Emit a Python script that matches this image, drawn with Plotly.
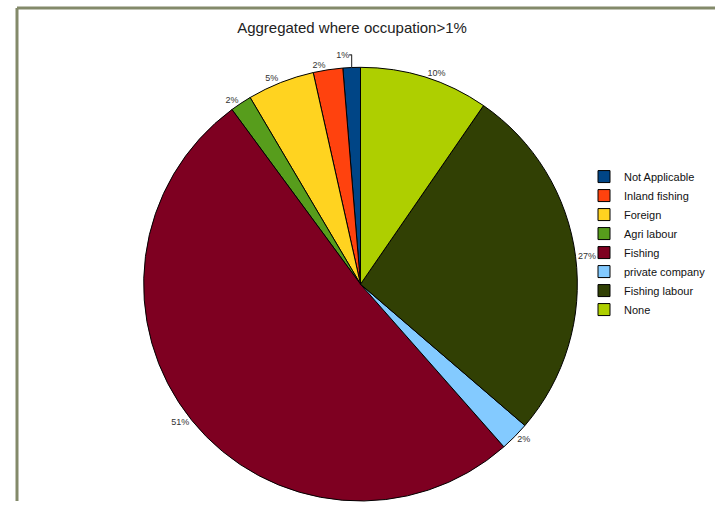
import plotly.graph_objects as go

labels = ["Not Applicable", "Inland fishing", "Foreign", "Agri labour", "Fishing",
          "private company", "Fishing labour", "None"]
values = [1.3, 2.2, 5.0, 1.6, 51.4, 2.2, 26.7, 9.6]
colors = ["#004586", "#ff420e", "#ffd320", "#579d1c", "#7e0021",
          "#83caff", "#314004", "#aecf00"]

W, H = 715, 506

# plotly places the first slice clockwise of the start angle when direction is
# counterclockwise; rotate back so the first slice starts at 12 o'clock
start_rotation = -values[0] / sum(values) * 360

fig = go.Figure(go.Pie(
    labels=labels,
    values=values,
    sort=False,
    direction="counterclockwise",
    rotation=start_rotation,
    marker=dict(colors=colors, line=dict(color="#000000", width=1)),
    textinfo="percent",
    texttemplate="%{percent:.0%}",
    textposition="outside",
    outsidetextfont=dict(family="Liberation Sans, Arial, sans-serif", size=9, color="#333333"),
    domain=dict(x=[141.5 / W, 579.5 / W], y=[0 / H, 438 / H]),
    showlegend=True,
))

fig.update_layout(
    width=W, height=H,
    margin=dict(l=0, r=0, t=0, b=0),
    paper_bgcolor="white",
    plot_bgcolor="white",
    font=dict(family="Liberation Sans, Arial, sans-serif", color="#000000"),
    title=dict(text="Aggregated where occupation>1%", x=352 / W, xanchor="center",
               y=1 - 28 / H, yanchor="middle",
               font=dict(size=15, color="#222222")),
    legend=dict(x=584 / W, y=1 - 245.5 / H, xanchor="left", yanchor="middle",
                font=dict(size=11, color="#111111"),
                itemwidth=30, tracegroupgap=0, bgcolor="rgba(0,0,0,0)"),
    shapes=[
        dict(type="line", xref="paper", yref="paper", x0=17 / W, x1=1, y0=1 - 8 / H, y1=1 - 8 / H,
             line=dict(color="#838a6a", width=3)),
        dict(type="line", xref="paper", yref="paper", x0=17 / W, x1=17 / W, y0=0, y1=1 - 8 / H,
             line=dict(color="#838a6a", width=3)),
    ],
)

fig.write_html("out.html", config={"displayModeBar": False},
               post_script="document.body.style.margin='0';")
